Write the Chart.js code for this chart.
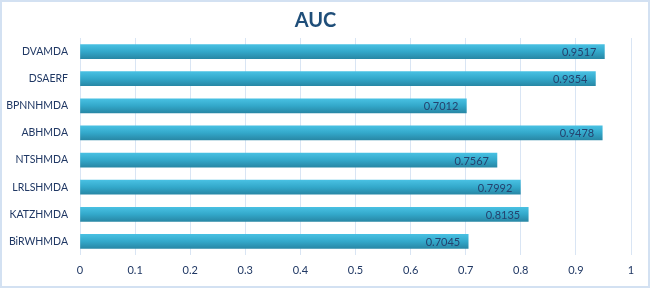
<!DOCTYPE html>
<html>
<head>
<meta charset="utf-8">
<script src="https://cdn.jsdelivr.net/npm/chart.js@4/dist/chart.umd.min.js"></script>
<style>
html,body{margin:0;padding:0;background:#fff;}
#wrap{width:650px;height:288px;position:relative;}
</style>
</head>
<body>
<div id="wrap"><canvas id="c" width="650" height="288"></canvas></div>
<script>
const categories = ["DVAMDA","DSAERF","BPNNHMDA","ABHMDA","NTSHMDA","LRLSHMDA","KATZHMDA","BiRWHMDA"];
const aucValues = [0.9517, 0.9354, 0.7012, 0.9478, 0.7567, 0.7992, 0.8135, 0.7045];
const xTicks = [0, 0.1, 0.2, 0.3, 0.4, 0.5, 0.6, 0.7, 0.8, 0.9, 1];

const FONT = "Lato, 'Open Sans', sans-serif";
const TEXT = '#203864';

const framePlugin = {
  id: 'frame',
  beforeDraw(chart) {
    const c = chart.ctx;
    c.save();
    c.fillStyle = '#fff';
    c.fillRect(0, 0, chart.width, chart.height);
    c.strokeStyle = '#d3e1f2';
    c.lineWidth = 2;
    c.strokeRect(1, 1, chart.width - 2, chart.height - 2);
    c.restore();
  }
};

const labelPlugin = {
  id: 'barLabels',
  afterDatasetsDraw(chart) {
    const c = chart.ctx;
    const meta = chart.getDatasetMeta(0);
    c.save();
    c.font = "11px " + FONT;
    c.fillStyle = '#24426e';
    c.textAlign = 'right';
    c.textBaseline = 'middle';
    meta.data.forEach((bar, i) => {
      c.fillText(aucValues[i].toFixed(4), bar.x - 8, bar.y + 1);
    });
    c.restore();
  }
};

function barGradient(ctx) {
  const chart = ctx.chart;
  const ys = chart.scales && chart.scales.y;
  if (!ys || ctx.dataIndex === undefined) return '#36aed0';
  const yc = ys.getPixelForValue(ctx.dataIndex);
  if (!isFinite(yc)) return '#36aed0';
  const g = chart.ctx.createLinearGradient(0, yc - 7, 0, yc + 7);
  g.addColorStop(0, '#48c0e2');
  g.addColorStop(0.5, '#33a8ca');
  g.addColorStop(1, '#2888a6');
  return g;
}

new Chart(document.getElementById('c'), {
  type: 'bar',
  data: {
    labels: categories,
    datasets: [{
      data: aucValues,
      backgroundColor: barGradient,
      borderWidth: 0,
      barThickness: 14
    }]
  },
  options: {
    indexAxis: 'y',
    responsive: false,
    animation: false,
    devicePixelRatio: 1,
    layout: { padding: { left: 0, right: 19, top: 0, bottom: 0 } },
    plugins: {
      legend: { display: false },
      tooltip: { enabled: false },
      title: {
        display: true,
        text: 'AUC',
        color: '#1f4e79',
        font: { family: FONT, size: 20, weight: 'bold' },
        padding: { top: 9, bottom: 5 }
      }
    },
    scales: {
      x: {
        min: 0, max: 1,
        afterBuildTicks(scale) { scale.ticks = xTicks.map(v => ({ value: v })); },
        ticks: {
          color: TEXT,
          font: { family: FONT, size: 11 },
          padding: 9,
          callback: (v) => String(v)
        },
        grid: { color: '#d9e5f4', drawTicks: false, lineWidth: 1 },
        border: { display: false },
        afterFit(scale) { scale.height = 33; }
      },
      y: {
        ticks: {
          color: TEXT,
          font: { family: FONT, size: 10.5 },
          padding: 12
        },
        grid: { display: false, drawTicks: false },
        border: { display: false },
        afterFit(scale) { scale.width = 80; }
      }
    }
  },
  plugins: [framePlugin, labelPlugin]
});
</script>
</body>
</html>
